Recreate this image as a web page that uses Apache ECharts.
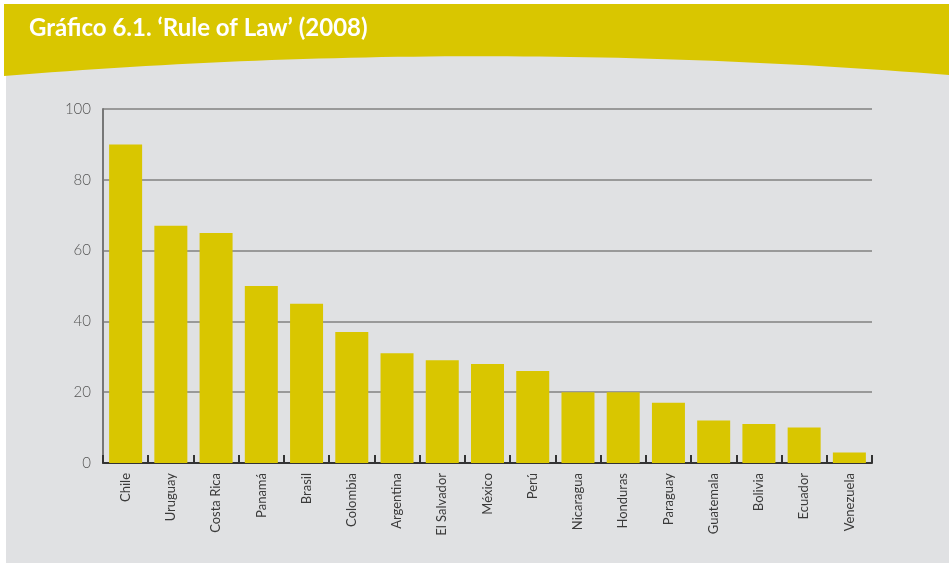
<!DOCTYPE html>
<html>
<head>
<meta charset="utf-8">
<script src="https://cdn.jsdelivr.net/npm/echarts@6/dist/echarts.min.js"></script>
<style>
html,body{margin:0;padding:0;background:#ffffff;}
#chart{width:949px;height:563px;}
</style>
</head>
<body>
<div id="chart"></div>
<script>
var titleText = "Gráfico 6.1. ‘Rule of Law’ (2008)";
var categories = ["Chile","Uruguay","Costa Rica","Panamá","Brasil","Colombia","Argentina","El Salvador","México","Perú","Nicaragua","Honduras","Paraguay","Guatemala","Bolivia","Ecuador","Venezuela"];
var values = [90, 67, 65, 50, 45, 37, 31, 29, 28, 26, 20, 20, 17, 12, 11, 10, 3];
var yTicks = [0, 20, 40, 60, 80, 100];

// header band outline (decoration): quadratic curve along the bottom edge
function headerPoints() {
  var pts = [[4, 4], [949, 4]];
  var p0 = [949, 75], c = [476, 37], p2 = [4, 76];
  for (var i = 0; i <= 60; i++) {
    var t = i / 60, u = 1 - t;
    pts.push([u*u*p0[0] + 2*u*t*c[0] + t*t*p2[0], u*u*p0[1] + 2*u*t*c[1] + t*t*p2[1]]);
  }
  return pts;
}

var chart = echarts.init(document.getElementById('chart'), null, {renderer: 'canvas'});
var yellow = '#D9C600';
var option = {
  animation: false,
  backgroundColor: '#ffffff',
  graphic: [
    {type: 'rect', z: -10, shape: {x: 6, y: 4, width: 943, height: 559}, style: {fill: '#E0E1E3'}},
    {type: 'polygon', z: -5, shape: {points: headerPoints()}, style: {fill: yellow}},
    {type: 'text', z: 10, left: 29, top: 16, style: {text: titleText, fill: '#ffffff', font: 'bold 24px Lato, "DejaVu Sans", sans-serif'}}
  ],
  grid: {left: 103, right: 77, top: 109, bottom: 100, containLabel: false},
  xAxis: {
    type: 'category',
    data: categories,
    boundaryGap: true,
    axisLine: {show: true, lineStyle: {color: '#333333', width: 2}},
    axisTick: {show: true, inside: true, length: 8, alignWithLabel: false, lineStyle: {color: '#333333', width: 2}},
    axisLabel: {rotate: 90, margin: 10, color: '#3a3a3a', fontSize: 13, fontFamily: 'Lato, "Open Sans", sans-serif', interval: 0}
  },
  yAxis: {
    type: 'value',
    min: 0, max: 100, interval: 20,
    axisLine: {show: true, lineStyle: {color: '#777777', width: 2}},
    axisTick: {show: false},
    axisLabel: {color: '#555555', fontSize: 15, fontFamily: 'Lato, "Open Sans", sans-serif', fontWeight: 300, margin: 12,
      formatter: function (v) { return yTicks.indexOf(v) >= 0 ? String(v) : ''; }},
    splitLine: {show: true, lineStyle: {color: '#999999', width: 2}}
  },
  series: [{
    type: 'bar',
    data: values,
    barWidth: 33,
    itemStyle: {color: yellow},
    z: 3
  }]
};
chart.setOption(option);
</script>
</body>
</html>
